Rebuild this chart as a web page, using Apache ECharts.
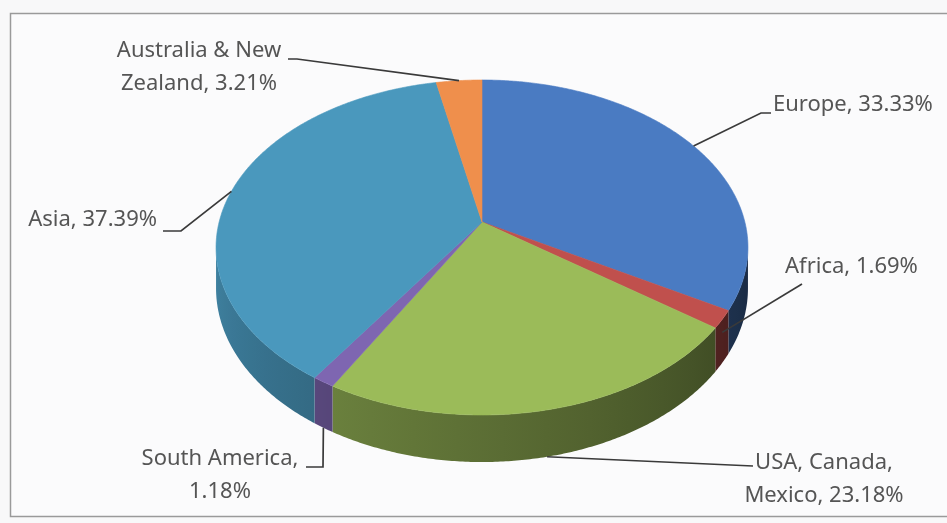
<!DOCTYPE html>
<html><head><meta charset="utf-8">
<script src="https://cdn.jsdelivr.net/npm/echarts@6.0.0/dist/echarts.min.js"></script>
<style>html,body{margin:0;padding:0;background:#f8f8f9}#c{width:947px;height:523px}</style>
</head><body><div id="c"></div>
<script>
// ---- data ----
const categories = ['Europe', 'Africa', 'USA, Canada, Mexico', 'South America', 'Asia', 'Australia & New Zealand'];
const values = [33.33, 1.69, 23.18, 1.18, 37.39, 3.21];
const labelNames = ['Europe', 'Africa', 'USA, Canada,\nMexico', 'South America', 'Asia', 'Australia & New\nZealand'];
const labelSeparators = [', ', ', ', ', ', ',\n', ', ', ', '];

// ---- style / layout ----
const topColors = ['#4a7bc2', '#c0504d', '#9bbb59', '#7e66b1', '#4a98bd', '#ef8f4c'];
const PROJ = { cx: 482, cy: 222, A: 1727, B: 1075, H: 262, D: 6.57 };
const labelLayout = [
  { level: 0,   x: 773, y: 105, align: 'left',   path: [[761, 113], [771, 113]] },
  { level: 0.3, x: 785, y: 267, align: 'left',   path: [[802, 284]] },
  { level: 1,   x: 824, y: 479, align: 'center', path: [[753, 466]] },
  { level: 1,   x: 220, y: 475, align: 'center', path: [[323, 467], [306, 467]] },
  { level: 0,   x: 157, y: 220, align: 'right',  path: [[181, 231], [163, 231]] },
  { level: 0,   x: 199, y: 67,  align: 'center', path: [[297, 59], [288, 59]] }
];
const FONT = '22px "Noto Sans", sans-serif';

const total = values.reduce((a, b) => a + b, 0);
const cum = [];
values.reduce((acc, v, i) => { cum[i] = acc; return acc + v; }, 0);
const seriesData = values.map((v, i) => ({ name: categories[i], value: [v, cum[i]] }));

function proj(t, level) {
  const u = Math.sin(t), v = -Math.cos(t);
  const den = PROJ.D - v;
  return [PROJ.cx + PROJ.A * u / den, PROJ.cy + (PROJ.B * v + PROJ.H * level) / den];
}
function arc(a0, a1, level) {
  const n = Math.max(2, Math.ceil((a1 - a0) / (Math.PI / 360)));
  const pts = [];
  for (let i = 0; i <= n; i++) pts.push(proj(a0 + (a1 - a0) * i / n, level));
  return pts;
}
function shade(hex, f) {
  const n = parseInt(hex.slice(1), 16);
  const r = Math.round(((n >> 16) & 255) * f), g = Math.round(((n >> 8) & 255) * f), b = Math.round((n & 255) * f);
  return 'rgb(' + r + ',' + g + ',' + b + ')';
}
function wallFactor(t) {
  const deg = t * 180 / Math.PI;
  return Math.min(0.86, Math.max(0.36, 0.40 + (deg - 120) * 0.0032));
}
function angles(api) {
  const val = api.value(0), start = api.value(1);
  return [start / total * 2 * Math.PI, (start + val) / total * 2 * Math.PI];
}
const VIS0 = 98.7 * Math.PI / 180, VIS1 = 261.3 * Math.PI / 180;

function renderWall(params, api) {
  const [a0, a1] = angles(api);
  const s = Math.max(a0, VIS0), e = Math.min(a1, VIS1);
  const children = [];
  if (e > s) {
    const base = topColors[params.dataIndex];
    const top = arc(s, e, 0), bot = arc(s, e, 1).reverse();
    const xs = proj(s, 0)[0], xe = proj(e, 0)[0];
    const stops = [];
    const N = 10;
    for (let k = 0; k <= N; k++) {
      const t = s + (e - s) * k / N;
      const x = proj(t, 0)[0];
      const off = Math.abs(xe - xs) < 0.5 ? k / N : (x - xs) / (xe - xs);
      stops.push({ offset: Math.min(1, Math.max(0, off)), color: shade(base, wallFactor(t)) });
    }
    const grad = new echarts.graphic.LinearGradient(xs, 0, xe, 0, stops, true);
    children.push({ type: 'polygon', shape: { points: top.concat(bot) }, style: { fill: grad } });
  }
  return { type: 'group', children: children };
}

function renderTop(params, api) {
  const i = params.dataIndex;
  const [a0, a1] = angles(api);
  const pts = [[PROJ.cx, PROJ.cy]].concat(arc(a0, a1, 0));
  const col = topColors[i];
  const children = [{ type: 'polygon', shape: { points: pts }, style: { fill: col, stroke: col, lineWidth: 0.6 } }];
  const L = labelLayout[i];
  const mid = (a0 + a1) / 2;
  const start = proj(mid, L.level);
  children.push({ type: 'polyline', z2: 10, shape: { points: [start].concat(L.path) }, style: { stroke: '#3a3a3a', lineWidth: 1.7, fill: null } });
  const txt = labelNames[i] + labelSeparators[i] + api.value(0).toFixed(2) + '%';
  children.push({
    type: 'text', z2: 11,
    style: { text: txt, x: L.x, y: L.y, fill: '#555555', font: FONT, align: L.align, textAlign: L.align,
             verticalAlign: 'middle', textVerticalAlign: 'middle', lineHeight: 33 }
  });
  return { type: 'group', children: children };
}

const chart = echarts.init(document.getElementById('c'), null, { renderer: 'canvas' });
chart.setOption({
  backgroundColor: '#f8f8f9',
  animation: false,
  graphic: [{ type: 'rect', z: -1, shape: { x: 10.5, y: 13.5, width: 960, height: 503 }, style: { fill: '#fbfbfc', stroke: '#9a9a9a', lineWidth: 1.5 } }],
  series: [
    { type: 'custom', coordinateSystem: 'none', z: 1, silent: true, renderItem: renderWall, data: seriesData },
    { type: 'custom', coordinateSystem: 'none', z: 2, silent: true, renderItem: renderTop, data: seriesData }
  ]
});
</script></body></html>
